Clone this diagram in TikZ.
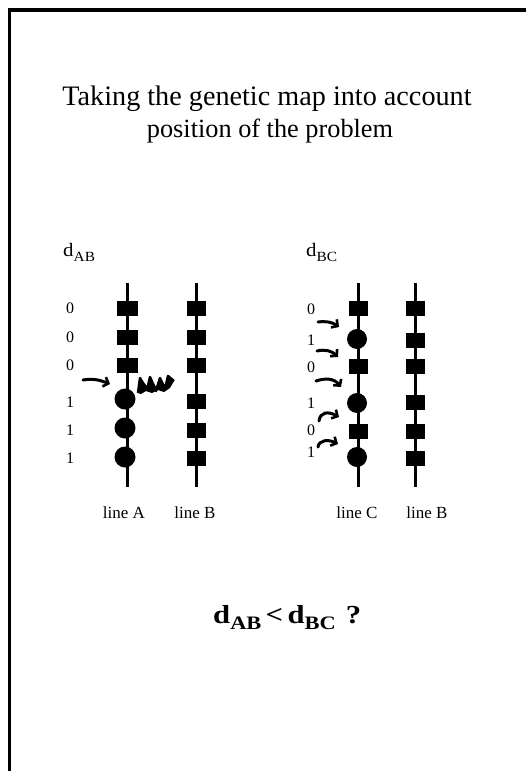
\documentclass[tikz,border=0pt]{standalone}
\usepackage{fontspec}
\setmainfont{Liberation Serif}
\usetikzlibrary{arrows.meta}
\begin{document}
\begin{tikzpicture}[x=1pt,y=-1pt,
  sqA/.style={fill=black,minimum width=21pt,minimum height=15pt,inner sep=0pt,outer sep=0pt},
  sqB/.style={fill=black,minimum width=19pt,minimum height=15pt,inner sep=0pt,outer sep=0pt},
  dot/.style={circle,fill=black,minimum size=21pt,inner sep=0pt,outer sep=0pt},
  chrom/.style={line width=3pt},
  num/.style={font=\fontsize{16}{18}\selectfont,inner sep=0pt},
  lab/.style={font=\fontsize{17}{19}\selectfont,inner sep=0pt},
  dlab/.style={font=\fontsize{19}{22}\selectfont\addfontfeature{FakeStretch=1.1},inner sep=0pt,anchor=base west},
  hand/.style={line width=3pt,line cap=round,-{Straight Barb[length=4.5pt,width=10pt,line width=2.6pt]}},
  frame/.style={line width=3.5pt}]
\useasboundingbox (0,0) rectangle (526,771);
% frame
\coordinate (fTR) at (526,10);
\coordinate (fTL) at (9.5,10);
\coordinate (fBL) at (9.5,771);
\draw[frame] (fTR) -- (fTL) -- (fBL);
% title
\node[font=\fontsize{28.2}{30}\selectfont,inner sep=0pt,anchor=base] (t1) at (267,105) {Taking the genetic map into account};
\node[font=\fontsize{26.3}{30}\selectfont,inner sep=0pt,anchor=base] (t2) at (270,137) {position of the problem};
% d labels
\node[dlab] (dab) at (63,256) {d\raisebox{-5pt}{\fontsize{14}{16}\selectfont AB}};
\node[dlab] (dbc) at (306,256) {d\raisebox{-5pt}{\fontsize{14}{16}\selectfont BC}};
% chromosome lines
\coordinate (At) at (127,283); \coordinate (Ab) at (127,487);
\coordinate (Bt) at (196,283); \coordinate (Bb) at (196,487);
\coordinate (Ct) at (358,283); \coordinate (Cb) at (358,487);
\coordinate (Dt) at (415,283); \coordinate (Db) at (415,487);
\draw[chrom] (At) -- (Ab);
\draw[chrom] (Bt) -- (Bb);
\draw[chrom] (Ct) -- (Cb);
\draw[chrom] (Dt) -- (Db);
% line A markers
\node[sqA] (a1) at (127,308) {};
\node[sqA] (a2) at (127,337) {};
\node[sqA] (a3) at (127,365) {};
\node[dot] (a4) at (125,399) {};
\node[dot] (a5) at (125,428) {};
\node[dot] (a6) at (125,457) {};
% line B (left) markers
\node[sqB] (b1) at (196,308) {};
\node[sqB] (b2) at (196,337) {};
\node[sqB] (b3) at (196,365) {};
\node[sqB] (b4) at (196,401) {};
\node[sqB] (b5) at (196,430) {};
\node[sqB] (b6) at (196,458) {};
% line C markers
\node[sqB] (c1) at (358,308) {};
\node[dot,minimum size=20pt] (c2) at (357,339) {};
\node[sqB] (c3) at (358,366) {};
\node[dot,minimum size=20pt] (c4) at (357,403) {};
\node[sqB] (c5) at (358,431) {};
\node[dot,minimum size=20pt] (c6) at (357,457) {};
% line B (right) markers
\node[sqB] (d1) at (415,308) {};
\node[sqB] (d2) at (415,340) {};
\node[sqB] (d3) at (415,366) {};
\node[sqB] (d4) at (415,402) {};
\node[sqB] (d5) at (415,431) {};
\node[sqB] (d6) at (415,458) {};
% left numbers
\node[num] (n1) at (70,308) {0};
\node[num] (n2) at (70,337) {0};
\node[num] (n3) at (70,365) {0};
\node[num] (n4) at (70,402) {1};
\node[num] (n5) at (70,430) {1};
\node[num] (n6) at (70,458) {1};
% right numbers
\node[num] (m1) at (311,309) {0};
\node[num] (m2) at (311,340) {1};
\node[num] (m3) at (311,367) {0};
\node[num] (m4) at (311,403) {1};
\node[num] (m5) at (311,430) {0};
\node[num] (m6) at (311,452) {1};
% left hand arrow
\coordinate (la1) at (83,380);
\coordinate (la2) at (110,384);
\draw[hand] (la1) .. controls (95,378) and (102,381) .. (la2);
% scribble
\coordinate (s0) at (138,393);
\fill (s0) -- (140,378) -- (147,386) -- (150,377) -- (156,387) -- (160,378) -- (165,385) -- (168,376) -- (174,381) -- (170,388) -- (164,392) -- (158,390) -- (152,393) -- (146,391) -- (141,394) -- cycle;
\draw[line width=2.5pt,line join=round] (138,393) -- (140,378) -- (147,390) -- (150,377) -- (156,391) -- (160,378) -- (165,389) -- (168,376) -- (174,381);
% right hand arrows
\coordinate (r1a) at (318,322); \coordinate (r1b) at (339,327);
\coordinate (r2a) at (317,351); \coordinate (r2b) at (338,357);
\coordinate (r3a) at (316,381); \coordinate (r3b) at (341,387);
\coordinate (r4a) at (319,421); \coordinate (r4b) at (339,417);
\coordinate (r5a) at (318,447); \coordinate (r5b) at (338,444);
\draw[hand] (r1a) .. controls (326,321) and (332,322) .. (r1b);
\draw[hand] (r2a) .. controls (325,349) and (332,351) .. (r2b);
\draw[hand] (r3a) .. controls (325,378) and (334,378) .. (r3b);
\draw[hand] (r4a) .. controls (320,412) and (328,411) .. (r4b);
\draw[hand] (r5a) .. controls (319,440) and (328,439) .. (r5b);
% bottom line labels
\node[lab,anchor=base] (lA) at (124,518) {line A};
\node[lab,anchor=base] (lB) at (195,518) {line B};
\node[lab,anchor=base] (lC) at (357,518) {line C};
\node[lab,anchor=base] (lD) at (427,518) {line B};
% question
\node[font=\fontsize{26}{30}\selectfont\bfseries\addfontfeature{FakeStretch=1.18},inner sep=0pt,anchor=base west] (q) at (213,623) {d\raisebox{-6pt}{\fontsize{19}{22}\selectfont AB}\,<\,d\raisebox{-6pt}{\fontsize{19}{22}\selectfont BC}\hspace{10pt}?};
\end{tikzpicture}
\end{document}
